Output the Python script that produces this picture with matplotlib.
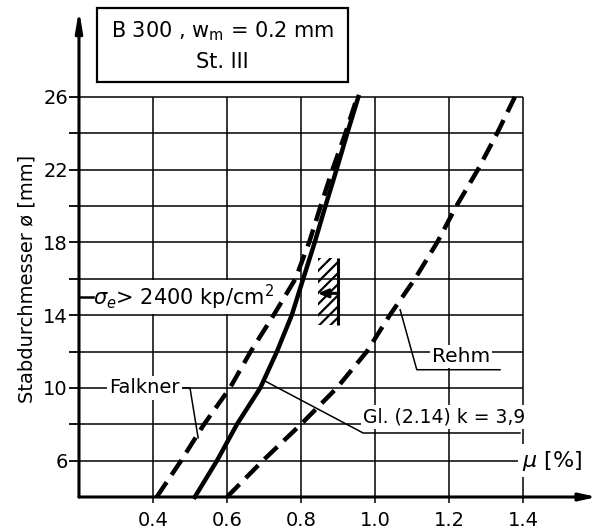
import matplotlib
matplotlib.use('Agg')
import matplotlib.pyplot as plt
from matplotlib.patches import Rectangle

plt.rcParams['font.family'] = ['DejaVu Sans']
plt.rcParams['hatch.linewidth'] = 1.6

# ---- data ----
diam = [4, 6, 8, 10, 12, 14, 16, 18, 20, 22, 24, 26]
mu_falkner = [0.41, 0.476, 0.538, 0.608, 0.664, 0.726, 0.785, 0.822, 0.853, 0.885, 0.92, 0.952]
mu_gl = [0.513, 0.573, 0.627, 0.69, 0.735, 0.775, 0.806, 0.837, 0.866, 0.896, 0.925, 0.955]
mu_rehm = [0.6, 0.697, 0.8, 0.897, 0.978, 1.04, 1.108, 1.168, 1.22, 1.278, 1.33, 1.378]

x_ticks = [0.4, 0.6, 0.8, 1.0, 1.2, 1.4]
x_tick_labels = ['0.4', '0.6', '0.8', '1.0', '1.2', '1.4']
y_ticks = [6, 10, 14, 18, 22, 26]
y_tick_labels = ['6', '10', '14', '18', '22', '26']
y_minor = [8, 12, 16, 20, 24]
y_grid = [6, 8, 10, 12, 14, 16, 18, 20, 22, 24, 26]

fig = plt.figure(figsize=(6.03, 5.29), dpi=100)
ax = fig.add_axes([0.131, 0.0605, 0.859, 0.928])
ax.set_xlim(0.2, 1.6)
ax.set_ylim(4, 31)
for s in ax.spines.values():
    s.set_visible(False)

# grid
ax.vlines(x_ticks, 4, 26, color='black', lw=1.1, zorder=1)
ax.hlines(y_grid, 0.2, 1.4, color='black', lw=1.1, zorder=1)

# ticks
ax.set_xticks(x_ticks)
ax.set_xticklabels(x_tick_labels, fontsize=14)
ax.set_yticks(y_ticks)
ax.set_yticklabels(y_tick_labels, fontsize=14)
ax.set_yticks(y_minor, minor=True)
ax.tick_params(axis='y', which='both', direction='out', length=7, width=1.3, pad=1)
ax.tick_params(axis='x', which='both', direction='out', length=4, width=1.1, pad=6)

# axes with arrows
ax.annotate('', xy=(1.6, 4), xytext=(0.2, 4),
            arrowprops=dict(arrowstyle='-|>,head_length=1.0,head_width=0.22', lw=2.2, color='black',
                            shrinkA=0, shrinkB=0), annotation_clip=False, zorder=5)
ax.annotate('', xy=(0.2, 30.8), xytext=(0.2, 4),
            arrowprops=dict(arrowstyle='-|>,head_length=1.2,head_width=0.2', lw=2.2, color='black',
                            shrinkA=0, shrinkB=0), annotation_clip=False, zorder=5)

# curves
ax.plot(mu_falkner, diam, color='black', lw=3.2, linestyle=(0, (4, 2)), zorder=3, clip_on=False)
ax.plot(mu_gl, diam, color='black', lw=3.2, linestyle='-', zorder=3, clip_on=False)
ax.plot(mu_rehm, diam, color='black', lw=3.2, linestyle=(0, (4, 2)), zorder=3, clip_on=False)

# hatched region
ax.add_patch(Rectangle((0.846, 13.46), 0.054, 3.69, fill=False, hatch='///', lw=0,
                       edgecolor='black', zorder=2))
ax.vlines([0.9], 13.46, 17.15, color='black', lw=2.2, zorder=3)
ax.annotate('', xy=(0.845, 15.2), xytext=(0.9, 15.2),
            arrowprops=dict(arrowstyle='-|>,head_length=0.6,head_width=0.25', lw=2.2, color='black',
                            shrinkA=0, shrinkB=0), zorder=4)

white = dict(facecolor='white', edgecolor='none', pad=1.5)

# sigma label
ax.plot([0.2, 0.238], [15.0, 15.0], color='black', lw=1.8, zorder=2.6)
ax.text(0.238, 15.0, r'$\sigma_e$> 2400 kp/cm$^2$', fontsize=15, ha='left', va='center',
        bbox=white, zorder=2.5)

# Falkner label
ax.text(0.378, 10.0, 'Falkner', fontsize=14, ha='center', va='center', bbox=white, zorder=4)
ax.plot([0.481, 0.5, 0.522], [10.0, 10.0, 7.25], color='black', lw=1.1, zorder=4)

# Rehm label
ax.text(1.232, 11.75, 'Rehm', fontsize=14.5, ha='center', va='center', bbox=white, zorder=4)
ax.plot([1.068, 1.113, 1.338], [14.3, 11.0, 11.0], color='black', lw=1.1, zorder=4)

# Gl label
ax.text(1.188, 8.4, 'Gl. (2.14) k = 3,9', fontsize=13.5, ha='center', va='center', bbox=white, zorder=4)
ax.plot([0.697, 0.968, 1.392], [10.44, 7.52, 7.52], color='black', lw=1.1, zorder=4)

# mu label
ax.text(1.478, 6.0, r'$\mu$ [%]', fontsize=16, ha='center', va='center',
        bbox=dict(facecolor='white', edgecolor='none', pad=3), zorder=4)

# title box
ax.add_patch(Rectangle((0.249, 26.8), 0.678, 4.1, fill=True, facecolor='white', edgecolor='black',
                       lw=1.6, zorder=4, clip_on=False))
ax.text(0.588, 29.6, r'B 300 , w$_\mathrm{m}$ = 0.2 mm', fontsize=15, ha='center', va='center', zorder=5)
ax.text(0.588, 27.9, 'St. III', fontsize=15, ha='center', va='center', zorder=5)

# y label
fig.text(27 / 603, 1 - 279 / 529, 'Stabdurchmesser ø [mm]', rotation=90, fontsize=14,
         ha='center', va='center')

fig.savefig('out.png', dpi=100)
